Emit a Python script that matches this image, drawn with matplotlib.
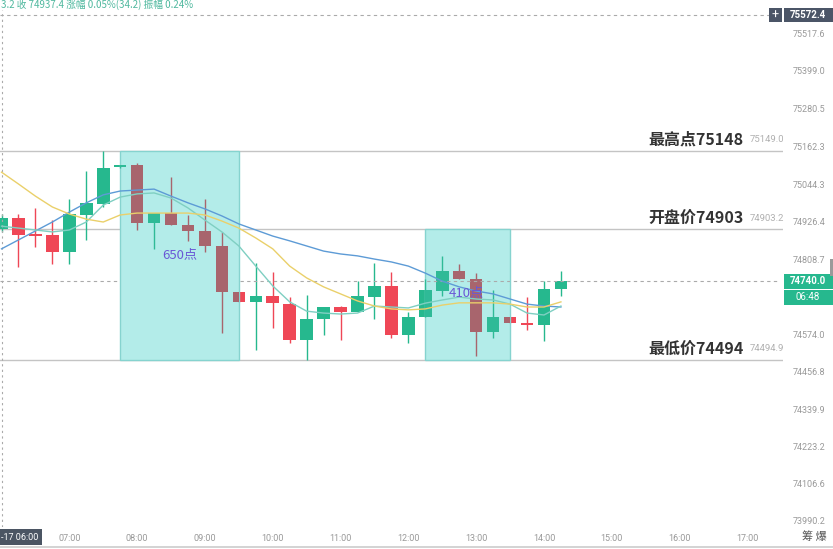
import numpy as np
import matplotlib.pyplot as plt
from matplotlib.patches import Rectangle
from matplotlib.lines import Line2D

plt.rcParams['font.family'] = ['Roboto', 'Noto Sans CJK SC', 'DejaVu Sans']
CJK = ['Noto Sans CJK SC', 'DejaVu Sans']

# 15 minute candles from 06:00
opens = [74903.2, 74937, 74888, 74885, 74832, 74948, 74982, 75098, 75104, 74923,
         74954, 74917, 74898, 74851, 74707, 74676, 74694, 74669, 74557, 74622,
         74660, 74644, 74691, 74726, 74572, 74629, 74710, 74773, 74748, 74582,
         74629, 74610, 74604, 74716]
highs = [74950, 74951, 74970, 74932, 74998, 75086, 75149.0, 75106, 75111, 74954,
         75067, 74948, 74998, 74895, 74707, 74798, 74770, 74691, 74698, 74660,
         74663, 74741, 74798, 74770, 74644, 74748, 74820, 74795, 74766, 74713,
         74629, 74691, 74741, 74773]
lows = [74895, 74785, 74848, 74794, 74794, 74870, 74973, 75096, 74901, 74842,
        74917, 74867, 74832, 74578, 74676, 74525, 74594, 74547, 74494.9, 74572,
        74557, 74644, 74622, 74563, 74547, 74629, 74694, 74748, 74507, 74563,
        74610, 74588, 74553, 74694]
closes = [74937.4, 74885, 74883, 74832, 74951, 74985, 75095, 75104, 74923, 74954,
          74917, 74898, 74851, 74707, 74676, 74694, 74673, 74557, 74622, 74660,
          74644, 74694, 74726, 74572, 74629, 74713, 74773, 74748, 74582, 74629,
          74610, 74604, 74716, 74740.0]

ma_blue = [74842, 74870, 74898, 74926, 74957, 74986, 75011, 75023, 75026, 75029,
           75007, 74986, 74967, 74945, 74920, 74901, 74882, 74867, 74851, 74835,
           74826, 74820, 74810, 74801, 74788, 74766, 74741, 74723, 74710, 74701,
           74685, 74669, 74663, 74660]
ma_teal = [74913, 74907, 74901, 74895, 74901, 74926, 74979, 75004, 75014, 75017,
           75001, 74970, 74932, 74895, 74851, 74788, 74726, 74676, 74647, 74641,
           74638, 74641, 74663, 74660, 74657, 74672, 74682, 74691, 74685, 74682,
           74669, 74641, 74635, 74663]
ma_yellow = [75082, 75045, 75007, 74973, 74951, 74935, 74926, 74948, 74954, 74954,
             74954, 74954, 74948, 74929, 74907, 74876, 74842, 74788, 74751, 74723,
             74701, 74679, 74663, 74654, 74651, 74654, 74666, 74673, 74673, 74673,
             74669, 74660, 74660, 74676]

hour_labels = ['07:00', '08:00', '09:00', '10:00', '11:00', '12:00',
               '13:00', '14:00', '15:00', '16:00', '17:00']
ytick_vals = [75517.6, 75399.0, 75280.5, 75162.3, 75044.3, 74926.4, 74808.7,
              74574.0, 74456.8, 74339.9, 74223.2, 74106.6, 73990.2]

high_mark = 75149.0
open_mark = 74903.2
low_mark = 74494.9
level_vals = [high_mark, open_mark, low_mark]
level_names = ['最高点75148', '开盘价74903', '最低价74494']
cross_price = 75572.4
last_price = closes[-1]

UP, DOWN = '#26b88e', '#ef4756'
UP_IN, DOWN_IN = '#2fba97', '#a8656d'
BOX_FC, BOX_EC = '#b3ece9', '#86d3cf'
W, H = 833, 549
PX = (75620.9 - 73971.4) / 527  # price per pixel

fig = plt.figure(figsize=(W / 100, H / 100), dpi=100)
ax = fig.add_axes([0, 22 / H, 783 / W, 527 / H])
for s in ax.spines.values():
    s.set_visible(False)
ax.set_xlim(-0.09, 46.1)
ax.set_ylim(73971.4, 75620.9)

x = np.arange(len(opens))
o = np.array(opens)
c = np.array(closes)
up = c >= o
mid = (o + c) / 2
body_h = np.maximum(np.abs(c - o), 5)
body_lo = mid - body_h / 2
cols = np.where(up, UP, DOWN)
cols_in = np.where(up, UP_IN, DOWN_IN)

ax.vlines(x, lows, highs, colors=cols, lw=1, zorder=2)
ax.bar(x, body_h, 0.74, bottom=body_lo, color=cols, zorder=2.1)

# level lines and labels
for v, name in zip(level_vals, level_names):
    ax.axhline(v, color='#c4c4c4', lw=1, zorder=1.5)
    ax.text(0.950, v + 11 * PX, name, transform=ax.get_yaxis_transform(),
            ha='right', va='center', fontsize=11.5, fontweight='bold',
            color='#333333', family=CJK, zorder=6)
    ax.text(0.958, v + 11 * PX, f'{v:.1f}', transform=ax.get_yaxis_transform(),
            ha='left', va='center', fontsize=6.8, color='#b0b0b0', zorder=6)

# current price dashed line, crosshair
ax.axhline(last_price, xmax=780 / 783, color='#aaaaaa', lw=0.8,
           ls=(0, (3, 3)), zorder=2.5)
ax.axhline(cross_price, xmax=769 / 783, color='#aaaaaa', lw=0.8,
           ls=(0, (3, 3)), zorder=2.5)
ax.axvline(0.03, ymax=(527 - 10) / 527, color='#aaaaaa', lw=0.8,
           ls=(0, (2, 3)), zorder=2.5)

# highlight boxes
boxes = [(7, 14, low_mark, high_mark, '650点', 10.5, 74823),
         (25, 30, low_mark, open_mark, '410点', 27.4, 74704)]
for k, (x0, x1, y0, y1, txt, tx, ty) in enumerate(boxes):
    rect = Rectangle((x0, y0), x1 - x0, y1 - y0, fc=BOX_FC, ec=BOX_EC,
                     lw=1, zorder=3)
    ax.add_patch(rect)
    vl = ax.vlines(x, lows, highs, colors=cols_in, lw=1, zorder=3.2)
    vl.set_clip_path(rect)
    bars = ax.bar(x, body_h, 0.74, bottom=body_lo, color=cols_in, zorder=3.3)
    for p in bars:
        p.set_clip_path(rect)
    if k == 1:
        dl = ax.axhline(last_price, color='#aaaaaa', lw=0.8,
                        ls=(0, (3, 3)), zorder=3.4)
        dl.set_clip_path(rect)
    ax.text(tx, ty, txt, ha='center', va='center', fontsize=9.5,
            color='#6a58d6', family=CJK, zorder=7)

ax.plot(x, ma_blue, color='#5d9bd6', lw=1, zorder=5)
ax.plot(x, ma_teal, color='#7fcfc2', lw=1, zorder=5)
ax.plot(x, ma_yellow, color='#ead06a', lw=1, zorder=5)

# axis ticks
ax.yaxis.tick_right()
ax.set_yticks(ytick_vals)
ax.set_yticklabels([f'{v:.1f}' for v in ytick_vals])
ax.tick_params(axis='y', length=0, pad=7, labelsize=6.5, labelcolor='#999999')
ax.set_xticks([4 * (k + 1) for k in range(len(hour_labels))])
ax.set_xticklabels(hour_labels)
ax.tick_params(axis='x', length=0, pad=5, labelsize=6.5, labelcolor='#999999')

# right side price tags
ytr = ax.get_yaxis_transform()
ax.add_patch(Rectangle((769 / 783, cross_price - 7 * PX), 13 / 783, 14 * PX,
                       transform=ytr, clip_on=False, fc='#4b5567', ec='none', zorder=8))
ax.text(775.5 / 783, cross_price, '+', transform=ytr, ha='center', va='center',
        color='white', fontsize=9, zorder=9)
ax.add_patch(Rectangle((783.5 / 783, cross_price - 7 * PX), 49 / 783, 14 * PX,
                       transform=ytr, clip_on=False, fc='#4b5567', ec='none', zorder=8))
ax.text(808 / 783, cross_price, f'{cross_price:.1f}', transform=ytr,
        ha='center', va='center', color='white', fontsize=7,
        fontweight='bold', zorder=9)

ax.add_patch(Rectangle((783.5 / 783, last_price - 7.5 * PX), 49 / 783, 15 * PX,
                       transform=ytr, clip_on=False, fc=UP, ec='none', zorder=8))
ax.text(808 / 783, last_price, f'{last_price:.1f}', transform=ytr,
        ha='center', va='center', color='white', fontsize=7,
        fontweight='bold', zorder=9)
ax.add_patch(Rectangle((783.5 / 783, last_price - 23.5 * PX), 49 / 783, 15 * PX,
                       transform=ytr, clip_on=False, fc=UP, ec='none', zorder=8))
ax.text(808 / 783, last_price - 16 * PX, '06:48', transform=ytr,
        ha='center', va='center', color='white', fontsize=7, zorder=9)

# header and chrome
fig.text(0.001, 1 - 4.5 / H, '3.2 收 74937.4 涨幅 0.05%(34.2) 振幅 0.24%',
         fontsize=7, color='#4fb89e', va='center', family=CJK)
fig.text(1 / W, 1 - 537 / H, '-17 06:00', fontsize=6.5, color='white',
         va='center', ha='left',
         bbox=dict(boxstyle='square,pad=0.35', fc='#4b5563', ec='none'))
fig.text(814 / W, 1 - 537 / H, '筹 爆', fontsize=8, color='#555555',
         va='center', ha='center', family=CJK)
fig.add_artist(Line2D([0, 1], [2 / H, 2 / H], transform=fig.transFigure,
                      color='#cccccc', lw=1.2))
fig.add_artist(Rectangle((830 / W, 1 - 276 / H), 3 / W, 17 / H,
                         transform=fig.transFigure, fc='#9a9a9a', ec='none'))

fig.savefig('out.png', dpi=100, facecolor='white')
